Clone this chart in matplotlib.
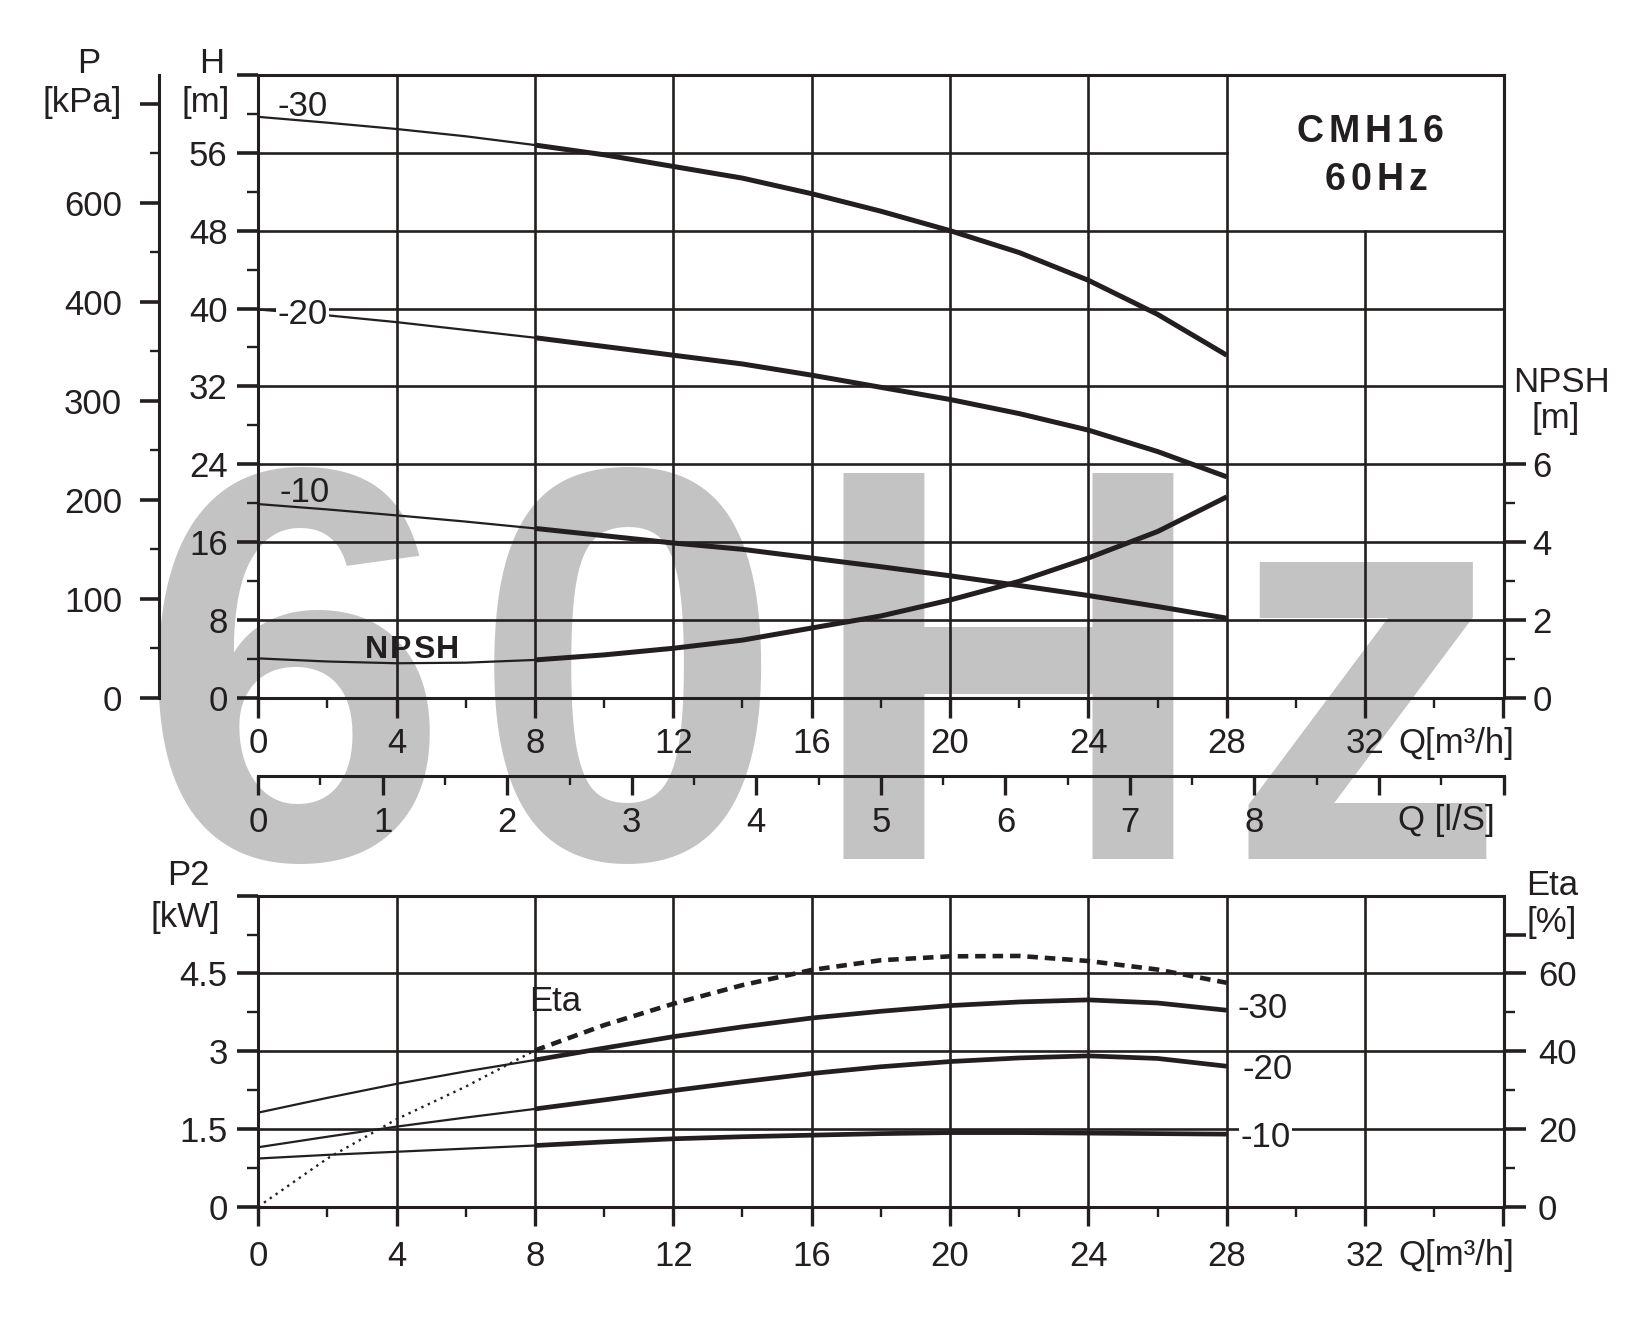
import numpy as np
import matplotlib
matplotlib.use("Agg")
import matplotlib.pyplot as plt

plt.rcParams["font.family"] = ["Liberation Sans", "DejaVu Sans"]

INK = "#231f20"
GREY = "#c3c3c3"
FS = 25

q = [0, 2, 4, 6, 8, 10, 12, 14, 16, 18, 20, 22, 24, 26, 28]

# head [m] for the three impeller sizes
h_30 = [59.7, 59.1, 58.45, 57.7, 56.8, 55.8, 54.6, 53.4, 51.8, 50.0, 48.0, 45.75, 42.9, 39.4, 35.2]
h_20 = [39.9, 39.3, 38.6, 37.8, 37.0, 36.1, 35.2, 34.3, 33.15, 31.9, 30.65, 29.2, 27.5, 25.3, 22.7]
h_10 = [19.9, 19.35, 18.74, 18.1, 17.4, 16.65, 15.9, 15.25, 14.35, 13.46, 12.53, 11.53, 10.5, 9.37, 8.17]
# NPSH [m]
npsh = [1.01, 0.93, 0.885, 0.9, 0.97, 1.1, 1.27, 1.48, 1.79, 2.1, 2.51, 2.99, 3.59, 4.27, 5.16]

# power P2 [kW]
p2_30 = [1.815, 2.1, 2.37, 2.61, 2.83, 3.06, 3.28, 3.47, 3.64, 3.77, 3.88, 3.95, 3.99, 3.93, 3.79]
p2_20 = [1.147, 1.35, 1.545, 1.72, 1.886, 2.06, 2.24, 2.41, 2.57, 2.7, 2.8, 2.87, 2.91, 2.86, 2.71]
p2_10 = [0.93, 1.0, 1.06, 1.12, 1.18, 1.25, 1.31, 1.35, 1.38, 1.41, 1.43, 1.43, 1.42, 1.41, 1.4]
# efficiency [%]
eta = [0, 12.4, 22.5, 30.9, 40.2, 46.7, 52.2, 57.0, 60.9, 63.4, 64.4, 64.5, 63.2, 61.0, 57.6]

q_ticks = [0, 4, 8, 12, 16, 20, 24, 28, 32, 36]
q_labels = ["0", "4", "8", "12", "16", "20", "24", "28", "32", ""]
h_ticks = [0, 8, 16, 24, 32, 40, 48, 56, 64]
h_labels = ["0", "8", "16", "24", "32", "40", "48", "56", ""]
p_ticks = [0, 100, 200, 300, 400, 500, 600]
p_labels = ["0", "100", "200", "300", "400", "600", ""]   # as printed on the sheet
npsh_ticks = [0, 2, 4, 6]
ls_ticks = [0, 1, 2, 3, 4, 5, 6, 7, 8, 9, 10]
ls_labels = ["0", "1", "2", "3", "4", "5", "6", "7", "8", "", ""]
p2_ticks = [0, 1.5, 3, 4.5, 6]
p2_labels = ["0", "1.5", "3", "4.5", ""]
eta_ticks = [0, 20, 40, 60, 70]
eta_labels = ["0", "20", "40", "60", ""]

W, H = 1632, 1323
fig = plt.figure(figsize=(W / 100, H / 100), dpi=100)
fig.patch.set_facecolor("white")


def fx(px):
    return px / W


def fy(py):
    return 1 - py / H


def ftext(x, y, s, **kw):
    kw.setdefault("fontsize", FS)
    kw.setdefault("color", INK)
    kw.setdefault("ha", "center")
    kw.setdefault("va", "baseline")
    return fig.text(fx(x), fy(y), s, **kw)


def tracked(x, y, s, gap, **kw):
    # text with extra letter spacing, centred on x
    r = fig.canvas.get_renderer()
    widths = []
    for i in range(len(s) + 1):
        t = fig.text(0, 0, s[:i] if i else " ", fontsize=kw["fontsize"],
                     fontweight=kw.get("fontweight", "normal"))
        widths.append(t.get_window_extent(r).width if i else 0)
        t.remove()
    total = widths[-1] + gap * (len(s) - 1)
    left = x - total / 2
    for i, ch in enumerate(s):
        ftext(left + widths[i] + gap * i, y, ch, ha="left", **kw)


def curve(ax, x, y, thin=1.6, thick=3.6):
    x = np.asarray(x)
    y = np.asarray(y)
    a = x <= 8
    b = x >= 8
    ax.plot(x[a], y[a], color=INK, lw=thin, solid_capstyle="butt", zorder=4)
    ax.plot(x[b], y[b], color=INK, lw=thick, solid_capstyle="butt",
            solid_joinstyle="round", zorder=4)


def set_spines(ax, lw=2.2):
    for s in ax.spines.values():
        s.set_linewidth(lw)
        s.set_color(INK)


GRID = dict(color=INK, lw=1.9, zorder=2)

# ---------------- top chart: head / NPSH ----------------
L, R = 258.2, 1503.5
ax1 = fig.add_axes([fx(L), fy(697.7), fx(R) - fx(L), fy(75) - fy(697.7)])
ax1.set_facecolor("none")
ax1.set_xlim(0, 36)
ax1.set_ylim(0, 64)
set_spines(ax1)

for v in [8, 16, 24, 32, 40, 48]:
    ax1.plot([0, 36], [v, v], **GRID)
ax1.plot([0, 28], [56, 56], **GRID)
for v in [4, 8, 12, 16, 20, 24, 28]:
    ax1.plot([v, v], [0, 64], **GRID)
ax1.plot([32, 32], [0, 48], **GRID)

ax1.set_xticks(q_ticks)
ax1.set_xticklabels(q_labels)
ax1.set_xticks(np.arange(2, 36, 4), minor=True)
ax1.set_yticks(h_ticks)
ax1.set_yticklabels(h_labels)
ax1.set_yticks(np.arange(4, 64, 8), minor=True)
ax1.tick_params(axis="x", which="major", length=14.4, width=2.4, pad=7, labelsize=FS, colors=INK)
ax1.tick_params(axis="x", which="minor", length=7.2, width=1.7, colors=INK)
ax1.tick_params(axis="y", which="major", length=15, width=2.6, pad=7, labelsize=FS, colors=INK)
ax1.tick_params(axis="y", which="minor", length=8, width=1.7, colors=INK)

curve(ax1, q, h_30)
curve(ax1, q, h_20)
curve(ax1, q, h_10)

# NPSH axis on the right
ax_n = ax1.twinx()
ax_n.set_ylim(0, 16)
for s in ["left", "top", "bottom"]:
    ax_n.spines[s].set_visible(False)
ax_n.spines["right"].set_linewidth(2.2)
ax_n.spines["right"].set_color(INK)
ax_n.set_yticks(npsh_ticks)
ax_n.set_yticks([1, 3, 5], minor=True)
ax_n.tick_params(axis="y", which="major", length=15.8, width=2.6, pad=5, labelsize=FS, colors=INK)
ax_n.tick_params(axis="y", which="minor", length=8, width=1.7, colors=INK)
curve(ax_n, q, npsh)

# pressure axis on the far left
ax_p = ax1.twinx()
ax_p.set_ylim(0, 629)
for s in ["right", "top", "bottom"]:
    ax_p.spines[s].set_visible(False)
ax_p.spines["left"].set_visible(True)
ax_p.spines["left"].set_position(("axes", -0.0794))
ax_p.spines["left"].set_linewidth(2.2)
ax_p.spines["left"].set_color(INK)
ax_p.yaxis.set_ticks_position("left")
ax_p.set_yticks(p_ticks)
ax_p.set_yticklabels(p_labels)
ax_p.set_yticks(np.arange(50, 600, 100), minor=True)
ax_p.tick_params(axis="y", which="major", length=13.7, width=2.6, pad=13, labelsize=FS, colors=INK)
ax_p.tick_params(axis="y", which="minor", length=6.5, width=1.7, colors=INK)

# flow in l/s below the chart
ax_l = ax1.twiny()
ax_l.set_xlim(0, 10)
for s in ["left", "right", "top"]:
    ax_l.spines[s].set_visible(False)
ax_l.spines["bottom"].set_visible(True)
ax_l.spines["bottom"].set_position(("axes", -78 / 622.7))
ax_l.spines["bottom"].set_linewidth(2.2)
ax_l.spines["bottom"].set_color(INK)
ax_l.xaxis.set_ticks_position("bottom")
ax_l.set_xticks(ls_ticks)
ax_l.set_xticklabels(ls_labels)
ax_l.set_xticks(np.arange(0.5, 10, 1), minor=True)
ax_l.tick_params(axis="x", which="major", length=13.7, width=2.4, pad=8, labelsize=FS, colors=INK)
ax_l.tick_params(axis="x", which="minor", length=6.5, width=1.7, colors=INK)

# ---------------- bottom chart: power / efficiency ----------------
ax2 = fig.add_axes([fx(L), fy(1206.7), fx(R) - fx(L), fy(895.7) - fy(1206.7)])
ax2.set_facecolor("none")
ax2.set_xlim(0, 36)
ax2.set_ylim(0, 6)
set_spines(ax2)
for v in [1.5, 3, 4.5]:
    ax2.plot([0, 36], [v, v], **GRID)
for v in [4, 8, 12, 16, 20, 24, 28, 32]:
    ax2.plot([v, v], [0, 6], **GRID)

ax2.set_xticks(q_ticks)
ax2.set_xticklabels(q_labels)
ax2.set_xticks(np.arange(2, 36, 4), minor=True)
ax2.set_yticks(p2_ticks)
ax2.set_yticklabels(p2_labels)
ax2.set_yticks([0.75, 2.25, 3.75, 5.25], minor=True)
ax2.tick_params(axis="x", which="major", length=13.7, width=2.4, pad=10.5, labelsize=FS, colors=INK)
ax2.tick_params(axis="x", which="minor", length=7.2, width=1.7, colors=INK)
ax2.tick_params(axis="y", which="major", length=15, width=2.6, pad=7, labelsize=FS, colors=INK)
ax2.tick_params(axis="y", which="minor", length=8, width=1.7, colors=INK)

curve(ax2, q, p2_30, thin=1.6, thick=3.4)
curve(ax2, q, p2_20, thin=1.6, thick=3.4)
curve(ax2, q, p2_10, thin=1.6, thick=3.4)

ax_e = ax2.twinx()
ax_e.set_ylim(0, 80)
for s in ["left", "top", "bottom"]:
    ax_e.spines[s].set_visible(False)
ax_e.spines["right"].set_linewidth(2.2)
ax_e.spines["right"].set_color(INK)
ax_e.set_yticks(eta_ticks)
ax_e.set_yticklabels(eta_labels)
ax_e.set_yticks([10, 30, 50], minor=True)
ax_e.tick_params(axis="y", which="major", length=15.8, width=2.6, pad=9, labelsize=FS, colors=INK)
ax_e.tick_params(axis="y", which="minor", length=8, width=1.7, colors=INK)

qa = np.asarray(q)
ea = np.asarray(eta)
m1 = qa <= 8
m2 = qa >= 8
ax_e.plot(qa[m1], ea[m1], color=INK, lw=1.7, linestyle=(0, (1.0, 2.0)), zorder=4)
ax_e.plot(qa[m2], ea[m2], color=INK, lw=3.3, linestyle=(0, (2.3, 1.5)), zorder=4)

# ---------------- watermark ----------------
for ch, cx in zip("60Hz", [294, 628, 1008, 1366]):
    ftext(cx, 859, ch, fontsize=404, fontweight="bold", color=GREY, zorder=-1)

# ---------------- labels ----------------
ftext(89, 73.3, "P")
ftext(82.5, 111.7, "[kPa]")
ftext(211.7, 73.3, "H")
ftext(206, 111.7, "[m]")
ftext(302.5, 116, "-30")
ftext(302.5, 324, "-20", bbox=dict(facecolor="white", edgecolor="none", pad=1))
ftext(305, 501.7, "-10")
tracked(412, 658.3, "NPSH", 2, fontsize=23, fontweight="bold")
tracked(1370, 141.7, "CMH16", 5, fontsize=27, fontweight="bold")
tracked(1376, 190, "60Hz", 5, fontsize=27, fontweight="bold")
ftext(1561, 391.7, "NPSH")
ftext(1556, 428.3, "[m]")
ftext(1398, 753.3, "Q[m³/h]", ha="left")
ftext(1398, 830, "Q [l/S]", ha="left")

ftext(188, 885, "P2")
ftext(185, 926.7, "[kW]")
ftext(1552, 895, "Eta")
ftext(1552, 931.7, "[%]")
ftext(554.7, 1010.7, "Eta")
ftext(1262.5, 1018.3, "-30")
ftext(1267.5, 1079.3, "-20")
ftext(1265.3, 1147.3, "-10", bbox=dict(facecolor="white", edgecolor="none", pad=1))
ftext(1398, 1265, "Q[m³/h]", ha="left")

fig.savefig("out.png", dpi=100, facecolor="white")
